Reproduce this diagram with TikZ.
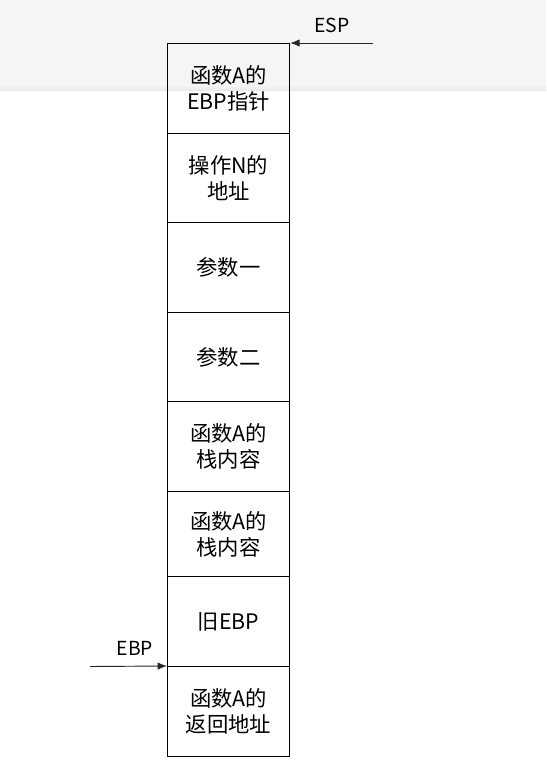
\documentclass[tikz,border=0pt]{standalone}
\usepackage{fontspec}
\setmainfont{Noto Sans CJK SC}
\usetikzlibrary{arrows.meta}
\definecolor{topbg}{HTML}{F4F5F7}
\definecolor{topshade}{HTML}{E6E7E9}
\tikzset{
  cell/.style={draw=black, line width=0.9pt, minimum width=122*0.75pt, align=center, font=\fontsize{16pt}{19.5pt}\selectfont, inner sep=0pt, anchor=north west},
  ptr/.style={line width=0.7pt, draw=black!85, -{Latex[length=7pt,width=5.5pt]}},
  lbl/.style={font=\fontsize{14.5pt}{17pt}\selectfont, inner sep=0pt}
}
\begin{document}
\begin{tikzpicture}[x=0.75pt,y=-0.75pt]
\useasboundingbox (0,0) rectangle (546,766);
\fill[white] (0,0) rectangle (546,766);
\fill[topbg] (0,0) rectangle (546,85);
\shade[top color=topbg, bottom color=topshade] (0,85) rectangle (546,91);
% cells
\node[cell, minimum height=90*0.75pt] (c1) at (167,43) {函数A的\\EBP指针};
\node[cell, minimum height=89*0.75pt] (c2) at (167,133) {操作N的\\地址};
\node[cell, minimum height=90*0.75pt] (c3) at (167,222) {参数一};
\node[cell, minimum height=89*0.75pt] (c4) at (167,312) {参数二};
\node[cell, minimum height=90*0.75pt] (c5) at (167,401) {函数A的\\栈内容};
\node[cell, minimum height=85*0.75pt] (c6) at (167,491) {函数A的\\栈内容};
\node[cell, minimum height=90*0.75pt] (c7) at (167,576) {旧EBP};
\node[cell, minimum height=90*0.75pt] (c8) at (167,666) {函数A的\\返回地址};
% pointers
\coordinate (espstart) at (373,43);
\coordinate (ebpstart) at (90,666.5);
\node[lbl] (esp) at (332,25) {ESP};
\node[lbl] (ebp) at (135,648) {EBP};
\draw[ptr] (espstart) -- (c1.north east);
\draw[ptr] (ebpstart) -- (c8.north west);
\end{tikzpicture}
\end{document}
